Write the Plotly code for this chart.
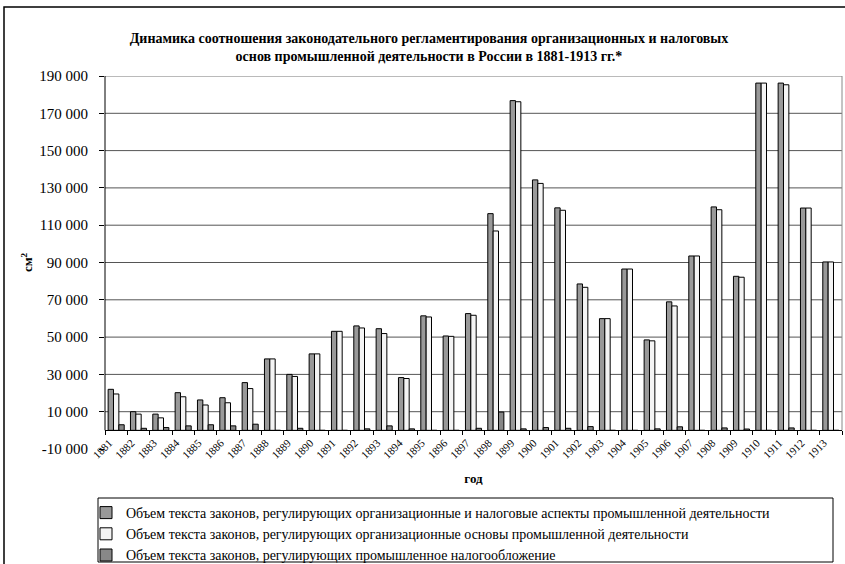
import plotly.graph_objects as go

years = [str(y) for y in range(1881, 1914)]

total_law = [22000, 10000, 8700, 20200, 16300, 17500, 25600, 38300, 30000, 41000,
             53100, 56000, 54500, 28300, 61400, 50600, 62600, 116200, 176800, 134300,
             119300, 78500, 59900, 86500, 48500, 68900, 93500, 119800, 82600, 186200,
             186200, 119200, 90300]
org_law = [19500, 8700, 6700, 18000, 13600, 14800, 22400, 38300, 28900, 41000,
           53100, 54900, 51900, 27800, 60800, 50400, 61700, 106900, 176200, 132400,
           118000, 76700, 59900, 86500, 48000, 66700, 93500, 118300, 82100, 186200,
           185300, 119200, 90300]
tax_law = [3000, 1100, 1500, 2400, 3000, 2400, 3300, 0, 1100, 0,
           0, 800, 2400, 800, 0, 0, 1100, 9800, 800, 1500,
           1100, 2000, 0, 0, 800, 1900, 0, 1300, 700, 0,
           1300, 0, 0]

series_names = [
    "Объем текста законов, регулирующих организационные и налоговые аспекты промышленной деятельности",
    "Объем текста законов, регулирующих организационные основы промышленной деятельности",
    "Объем текста законов, регулирующих промышленное налогообложение",
]
series_colors = ["#999999", "#f4f4f4", "#888888"]

y_ticks = list(range(-10000, 190001, 20000))
y_ticktext = [f"{v:,}".replace(",", " ") for v in y_ticks]

title_text = ("Динамика соотношения законодательного регламентирования организационных и налоговых"
              "<br>основ промышленной деятельности в России в 1881-1913 гг.*")

SERIF = "Liberation Serif"

fig = go.Figure()
for name, vals, col in zip(series_names, [total_law, org_law, tax_law], series_colors):
    fig.add_trace(go.Bar(
        x=years, y=vals, name=name,
        marker=dict(color=col, line=dict(color="#000000", width=1)),
    ))

W, H = 845, 564
ML, MR, MT, MB = 105, 3, 76, 115
pw = W - ML - MR
ph = H - MT - MB

def px_x(p):
    return (p - ML) / pw

def px_y(p):
    return (H - MB - p) / ph

shapes = []
# gridlines
for v in y_ticks[1:-1]:
    shapes.append(dict(type="line", xref="paper", yref="y", x0=0, x1=1, y0=v, y1=v,
                       line=dict(color="#555555", width=1), layer="below"))
# top border
shapes.append(dict(type="line", xref="paper", yref="y", x0=0, x1=1, y0=y_ticks[-1], y1=y_ticks[-1],
                   line=dict(color="#777777", width=1), layer="below"))
# right border
shapes.append(dict(type="line", xref="paper", yref="y", x0=1, x1=1, y0=0, y1=y_ticks[-1],
                   line=dict(color="#888888", width=1), layer="below"))
# y axis line
shapes.append(dict(type="line", xref="paper", yref="y", x0=0, x1=0, y0=0, y1=y_ticks[-1],
                   line=dict(color="#000000", width=1)))
# legend box
shapes.append(dict(type="rect", xref="paper", yref="paper",
                   x0=px_x(98), x1=px_x(833), y0=px_y(562), y1=px_y(498),
                   line=dict(color="#000000", width=1)))
# outer chart border
shapes.append(dict(type="rect", xref="paper", yref="paper",
                   x0=px_x(4), x1=px_x(852), y0=px_y(580), y1=px_y(7),
                   line=dict(color="#000000", width=1.5)))

fig.update_layout(
    width=W, height=H,
    margin=dict(l=ML, r=MR, t=MT, b=MB, autoexpand=False),
    paper_bgcolor="white", plot_bgcolor="white",
    barmode="group", bargap=0.28, bargroupgap=0,
    font=dict(family=SERIF, color="#000000"),
    title=dict(text=title_text, x=429 / W, xanchor="center", xref="container",
               y=1 - 43 / H, yanchor="top", yref="container",
               font=dict(family=SERIF, size=14, color="#000000", weight="bold")),
    xaxis=dict(
        type="category", anchor="free", position=0.05,
        showline=True, linecolor="#000000", linewidth=1,
        ticks="outside", tickson="boundaries", ticklen=4, tickcolor="#000000",
        tickangle=-45, tickfont=dict(family=SERIF, size=11),
        ticklabelshift=-7, ticklabelstandoff=1,
        showgrid=False,
        title=dict(text="<b>год</b>", font=dict(family=SERIF, size=13), standoff=13),
    ),
    yaxis=dict(
        range=[y_ticks[0], y_ticks[-1]], tickvals=y_ticks, ticktext=y_ticktext,
        ticks="outside", ticklen=5, tickcolor="#000000", ticklabelstandoff=8,
        tickfont=dict(family=SERIF, size=15),
        showgrid=False, zeroline=False, showline=False,
        title=dict(text="<b>см<sup>2</sup></b>", font=dict(family=SERIF, size=13), standoff=3),
    ),
    legend=dict(
        orientation="v", x=px_x(86), y=px_y(497), xanchor="left", yanchor="top",
        xref="paper", yref="paper",
        font=dict(family=SERIF, size=14), bgcolor="rgba(0,0,0,0)",
        borderwidth=0, tracegroupgap=0, itemwidth=30,
    ),
    shapes=shapes,
    showlegend=True,
)

fig.write_html("out.html", config={"displayModeBar": False},
               post_script="document.body.style.margin='0px';")
